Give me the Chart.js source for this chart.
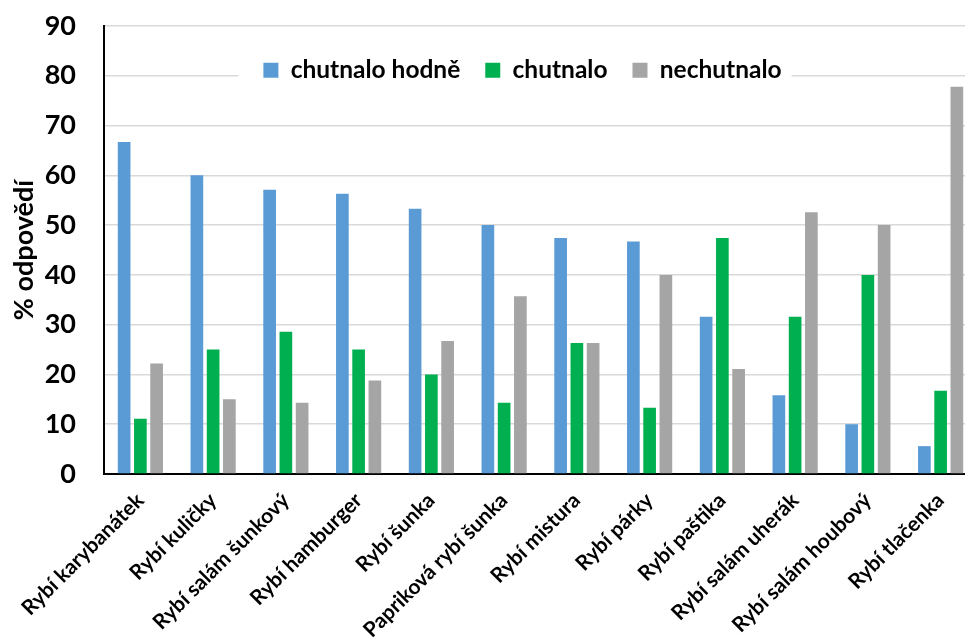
<!DOCTYPE html>
<html>
<head>
<meta charset="utf-8">
<script src="https://cdn.jsdelivr.net/npm/chart.js@4"></script>
<style>
  html, body { margin: 0; padding: 0; background: #fff; }
  #wrap { width: 965px; height: 644px; overflow: hidden; }
</style>
</head>
<body>
<div id="wrap"><canvas id="c" width="965" height="644"></canvas></div>
<script>
const categories = [
  'Rybí karybanátek', 'Rybí kuličky', 'Rybí salám šunkový', 'Rybí hamburger',
  'Rybí šunka', 'Papriková rybí šunka', 'Rybí mistura', 'Rybí párky',
  'Rybí paštika', 'Rybí salám uherák', 'Rybí salám houbový', 'Rybí tlačenka'
];
const seriesNames = ['chutnalo hodně', 'chutnalo', 'nechutnalo'];
const chutnaloHodne = [66.7, 60.0, 57.1, 56.3, 53.3, 50.0, 47.4, 46.7, 31.6, 15.8, 10.0, 5.6];
const chutnalo      = [11.1, 25.0, 28.6, 25.0, 20.0, 14.3, 26.3, 13.3, 47.4, 31.6, 40.0, 16.7];
const nechutnalo    = [22.2, 15.0, 14.3, 18.8, 26.7, 35.7, 26.3, 40.0, 21.1, 52.6, 50.0, 77.8];
const yAxisTitle = '% odpovědí';

const FONT = 'Lato';

const legendBg = {
  id: 'legendBg',
  afterInit(chart) {
    if (chart.legend) chart.legend.isHorizontal = () => true;
  },
  beforeUpdate(chart) {
    if (chart.legend) chart.legend.isHorizontal = () => true;
  },
  afterLayout(chart) {
    const lg = chart.legend;
    const ca = chart.chartArea;
    if (lg) { lg.left = ca.left - 12; lg.right = ca.right - 12; }
    // the original plot area runs a little past the right edge of the picture
    const xs = chart.scales.x;
    if (xs) {
      xs.right = ca.right + 12;
      xs.width = xs.right - xs.left;
      xs.configure();
    }
  },
  beforeDatasetsDraw(chart) {
    const lg = chart.legend;
    if (!lg || !lg.legendHitBoxes || !lg.legendHitBoxes.length) return;
    const hb = lg.legendHitBoxes;
    const l = Math.min(...hb.map(h => h.left)) - 25;
    const r = Math.max(...hb.map(h => h.left + h.width)) + 10;
    const t = hb[0].top - 12;
    const b = hb[0].top + hb[0].height + 12;
    const ctx = chart.ctx;
    ctx.save();
    ctx.fillStyle = '#ffffff';
    ctx.fillRect(l, t, r - l, b - t);
    ctx.restore();
    lg.draw();
  }
};

new Chart(document.getElementById('c'), {
  type: 'bar',
  data: {
    labels: categories,
    datasets: [
      { label: seriesNames[0], data: chutnaloHodne, backgroundColor: '#5B9BD5' },
      { label: seriesNames[1], data: chutnalo, backgroundColor: '#00B050' },
      { label: seriesNames[2], data: nechutnalo, backgroundColor: '#A5A5A5' }
    ]
  },
  options: {
    responsive: false,
    animation: false,
    devicePixelRatio: 1,
    categoryPercentage: 0.67,
    barPercentage: 0.78,
    layout: { padding: { top: 26, left: 0, right: 0, bottom: 0 } },
    plugins: {
      tooltip: { enabled: false },
      legend: {
        position: 'chartArea',
        align: 'center',
        title: { display: true, text: '', font: { size: 6, lineHeight: 1 }, padding: { top: 1, bottom: 0 } },
        labels: {
          boxWidth: 15,
          boxHeight: 15,
          padding: 25,
          color: '#000',
          font: { family: FONT, size: 24.5, weight: 'bold' }
        }
      }
    },
    scales: {
      x: {
        grid: { display: false },
        border: { display: true, color: '#000', width: 2 },
        ticks: {
          autoSkip: false,
          minRotation: 45,
          maxRotation: 45,
          padding: 6,
          color: '#000',
          font: { family: FONT, size: 21, weight: 'bold' }
        },
        afterFit(scale) { scale.height = 170; }
      },
      y: {
        min: 0,
        max: 90,
        ticks: {
          stepSize: 10,
          padding: 2,
          color: '#000',
          font: { family: FONT, size: 27, weight: 'bold' }
        },
        grid: { color: '#d9d9d9', lineWidth: 1.5, drawTicks: true, tickLength: 26, tickColor: 'rgba(0,0,0,0)' },
        border: { display: true, color: '#000', width: 2 },
        title: {
          display: true,
          text: yAxisTitle,
          color: '#000',
          padding: { top: 8, bottom: 0 },
          font: { family: FONT, size: 27, weight: 'bold' }
        },
        afterFit(scale) { scale.width = 104; }
      }
    }
  },
  plugins: [legendBg]
});
</script>
</body>
</html>
